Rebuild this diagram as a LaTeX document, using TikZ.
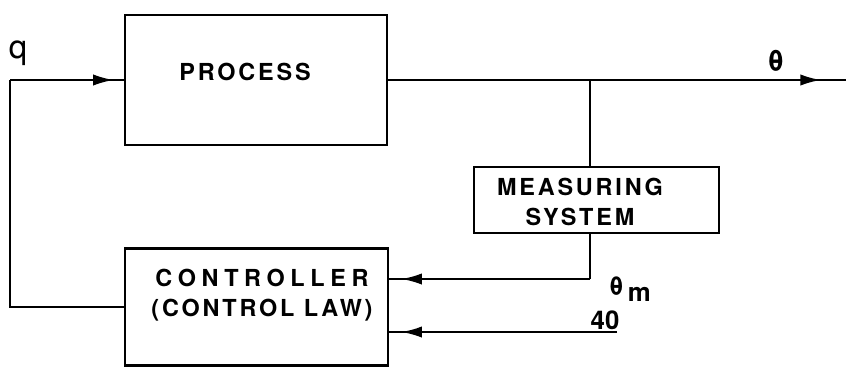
\documentclass[tikz,border=0pt]{standalone}
\usepackage{fontspec}
\setmainfont{TeX Gyre Heros}
\usetikzlibrary{arrows.meta,decorations.markings}
\begin{document}
\begin{tikzpicture}[x=0.03cm,y=-0.03cm,
  box/.style={draw,line width=2.2pt,inner sep=0pt},
  wire/.style={line width=1.9pt},
  arrowat/.style={postaction={decorate},decoration={markings,
      mark=at position #1 with {\arrow{Latex[length=0.62cm,width=0.34cm]}}}},
  lbl/.style={font=\fontsize{20}{25.5}\selectfont\bfseries\addfontfeature{LetterSpace=12},align=center,inner sep=0pt},
  sym/.style={font=\fontsize{20}{24}\selectfont\bfseries,inner sep=0pt}]
\useasboundingbox (0,0) rectangle (846,368);
% boxes
\node[box,minimum width=7.86cm,minimum height=3.9cm] (proc) at (256,80) {};
\node[lbl] (proctext) at (245,72) {PROCESS};
\node[box,minimum width=7.35cm,minimum height=1.98cm] (meas) at (596.5,200) {};
\node[lbl] (meastext) at (580,202) {MEASURING\\SYSTEM};
\node[box,minimum width=7.89cm,minimum height=3.51cm] (ctrl) at (256.5,307) {};
\node[lbl] (ctrltext) at (262,295) {{\addfontfeature{LetterSpace=24}CONTROLLER}\\(CONTROL LAW)};
% coordinates
\coordinate (lc) at (10,80);
\coordinate (tap) at (590,80);
\coordinate (out) at (846,80);
\coordinate (fbc) at (590,279);
\coordinate (spc) at (617,332);
% connectors
\draw[wire] (ctrl.west) -| (lc);
\draw[wire,arrowat=-0.3cm] (lc) -- (proc.west);
\draw[wire,arrowat=-0.75cm] (proc.east) -- (out);
\draw[wire] (tap) -- (tap |- meas.north);
\draw[wire] (tap |- meas.south) -- (fbc);
\draw[wire,arrowat=-0.36cm] (fbc) -- (fbc -| ctrl.east);
\draw[wire,arrowat=-0.36cm] (spc) -- (spc -| ctrl.east);
% labels
\node[sym,font=\fontsize{28}{32}\selectfont\mdseries] (q) at (18,53) {q};
\node[sym,font=\fontsize{25}{28}\selectfont\bfseries] (th) at (776,61) {θ};
\node[sym,font=\fontsize{22}{26}\selectfont\bfseries] (thm) at (630,289) {θ\,\raisebox{-5pt}{m}};
\node[sym,font=\fontsize{22}{26}\selectfont\bfseries] (sp) at (605,320) {40};
\end{tikzpicture}
\end{document}
